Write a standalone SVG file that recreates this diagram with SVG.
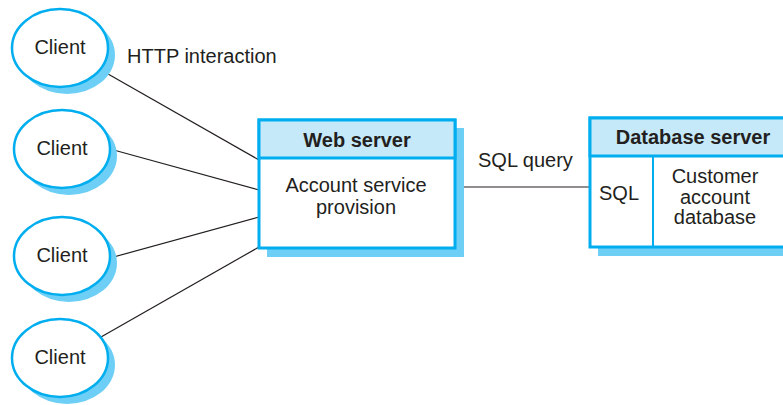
<svg xmlns="http://www.w3.org/2000/svg" width="783" height="405" viewBox="0 0 783 405">
<style>
text{font-family:"Liberation Sans",Arial,sans-serif;font-size:20px;fill:#231f20}
.b{font-weight:bold}
.sh{fill:#6dcff6;stroke:none}
.el{fill:#fff;stroke:#00aeef;stroke-width:2.5}
.box{fill:#fff;stroke:#00aeef;stroke-width:3}
.hd{fill:#c6e9f9;stroke:#00aeef;stroke-width:3}
.ln{stroke:#231f20;stroke-width:1.2;fill:none}
</style>
<rect width="783" height="405" fill="#fff"/>
<g id="connectors">
<line class="ln" x1="101" y1="70" x2="259" y2="160"/>
<line class="ln" x1="110" y1="149" x2="259" y2="190"/>
<line class="ln" x1="110" y1="258" x2="259" y2="217"/>
<line class="ln" x1="101" y1="337" x2="259" y2="247"/>
<line class="ln" x1="455" y1="187" x2="590" y2="187"/>
</g>
<g id="client1">
<ellipse class="sh" cx="67" cy="55" rx="48" ry="39"/>
<ellipse class="el" cx="60" cy="48" rx="48" ry="39"/>
<text x="60" y="54" text-anchor="middle">Client</text>
</g>
<g id="client2">
<ellipse class="sh" cx="69" cy="156" rx="48" ry="39"/>
<ellipse class="el" cx="62" cy="149" rx="48" ry="39"/>
<text x="62" y="155" text-anchor="middle">Client</text>
</g>
<g id="client3">
<ellipse class="sh" cx="69" cy="263" rx="48" ry="39"/>
<ellipse class="el" cx="62" cy="256" rx="48" ry="39"/>
<text x="62" y="262" text-anchor="middle">Client</text>
</g>
<g id="client4">
<ellipse class="sh" cx="67" cy="365" rx="48" ry="39"/>
<ellipse class="el" cx="60" cy="358" rx="48" ry="39"/>
<text x="60" y="364" text-anchor="middle">Client</text>
</g>
<g id="http-label">
<text x="127" y="63">HTTP interaction</text>
</g>
<g id="web-server">
<rect class="sh" x="267" y="128" width="197" height="129"/>
<rect class="box" x="259" y="120" width="196" height="128"/>
<rect class="hd" x="259" y="120" width="196" height="38"/>
<text class="b" x="357" y="147" text-anchor="middle">Web server</text>
<text x="356" y="192" text-anchor="middle">Account service</text>
<text x="356" y="214" text-anchor="middle">provision</text>
</g>
<g id="sql-label">
<text x="478" y="167">SQL query</text>
</g>
<g id="database-server">
<rect class="sh" x="598" y="127" width="200" height="129"/>
<rect class="box" x="590" y="118" width="210" height="129"/>
<rect class="hd" x="590" y="118" width="210" height="38"/>
<line x1="653" y1="156" x2="653" y2="247" stroke="#00aeef" stroke-width="2"/>
<text class="b" x="693" y="144" text-anchor="middle">Database server</text>
<text x="619" y="200" text-anchor="middle">SQL</text>
<text x="715" y="183" text-anchor="middle">Customer</text>
<text x="715" y="204" text-anchor="middle">account</text>
<text x="715" y="224" text-anchor="middle">database</text>
</g>
</svg>
